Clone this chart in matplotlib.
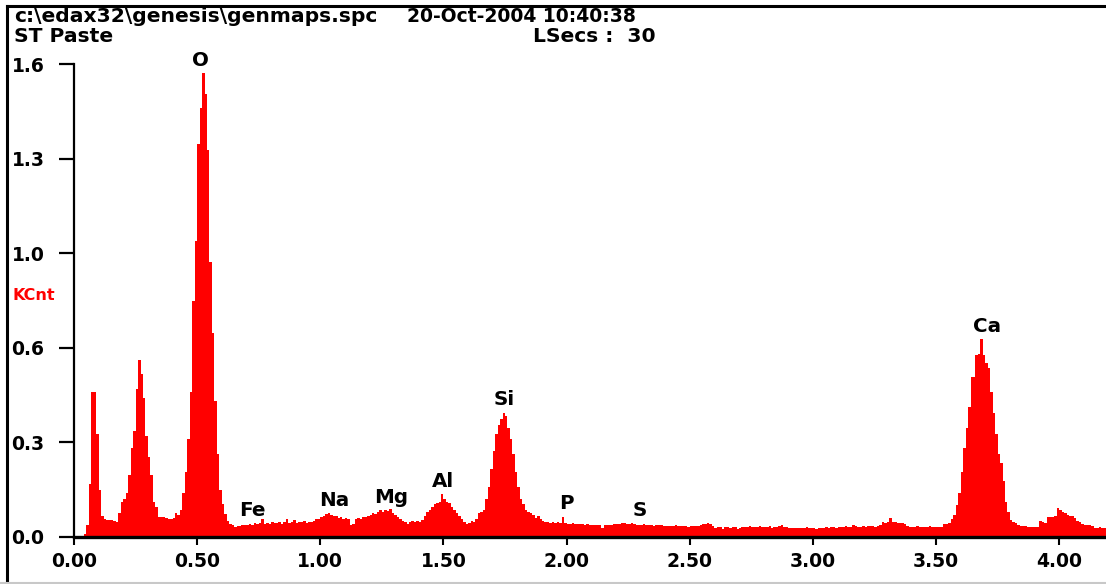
import numpy as np
import matplotlib
matplotlib.use("Agg")
from matplotlib import pyplot as plt
from matplotlib.lines import Line2D

# EDS spectrum, KCnt per 0.01 keV channel, starting at 0.00 keV
bin_width = 0.01
counts = [
    0, 0, 0, 0.004, 0.01, 0.04, 0.18, 0.49, 0.49, 0.35,                      # 0.0
    0.16, 0.07, 0.06, 0.058, 0.058, 0.056, 0.055, 0.05, 0.08, 0.12,          # 0.1
    0.13, 0.15, 0.21, 0.30, 0.36, 0.50, 0.60, 0.55, 0.47, 0.34,              # 0.2
    0.27, 0.21, 0.12, 0.10, 0.068, 0.068, 0.066, 0.065, 0.062, 0.06,         # 0.3
    0.065, 0.08, 0.075, 0.09, 0.15, 0.22, 0.33, 0.49, 0.80, 1.00,            # 0.4
    1.33, 1.45, 1.57, 1.50, 1.31, 0.93, 0.69, 0.46, 0.28, 0.16,              # 0.5
    0.11, 0.078, 0.055, 0.045, 0.04, 0.035, 0.038, 0.036, 0.04, 0.04,        # 0.6
    0.042, 0.045, 0.04, 0.046, 0.044, 0.048, 0.06, 0.045, 0.047, 0.044,      # 0.7
    0.05, 0.046, 0.048, 0.052, 0.045, 0.05, 0.062, 0.047, 0.05, 0.058,       # 0.8
    0.048, 0.052, 0.05, 0.055, 0.048, 0.052, 0.05, 0.055, 0.06, 0.062,       # 0.9
    0.068, 0.072, 0.078, 0.082, 0.076, 0.07, 0.072, 0.065, 0.066, 0.062,     # 1.0
    0.064, 0.06, 0.04, 0.045, 0.062, 0.065, 0.06, 0.066, 0.068, 0.072,       # 1.1
    0.075, 0.08, 0.078, 0.085, 0.09, 0.086, 0.092, 0.088, 0.095, 0.082,      # 1.2
    0.075, 0.068, 0.06, 0.055, 0.05, 0.045, 0.05, 0.055, 0.052, 0.055,       # 1.3
    0.052, 0.058, 0.07, 0.085, 0.09, 0.10, 0.11, 0.115, 0.12, 0.145,         # 1.4
    0.13, 0.12, 0.115, 0.10, 0.09, 0.08, 0.07, 0.06, 0.052, 0.045,           # 1.5
    0.048, 0.055, 0.05, 0.06, 0.08, 0.085, 0.09, 0.13, 0.17, 0.23,           # 1.6
    0.29, 0.35, 0.38, 0.40, 0.42, 0.41, 0.37, 0.33, 0.28, 0.22,              # 1.7
    0.17, 0.13, 0.11, 0.09, 0.085, 0.08, 0.075, 0.065, 0.07, 0.06,           # 1.8
    0.055, 0.05, 0.052, 0.048, 0.05, 0.046, 0.05, 0.048, 0.068, 0.047,       # 1.9
    0.045, 0.044, 0.046, 0.044, 0.045, 0.043, 0.044, 0.042, 0.043, 0.042,    # 2.0
    0.041, 0.042, 0.04, 0.041, 0.03, 0.04, 0.041, 0.042, 0.042, 0.043,       # 2.1
    0.044, 0.045, 0.046, 0.046, 0.045, 0.044, 0.048, 0.045, 0.042, 0.04,     # 2.2
    0.042, 0.043, 0.042, 0.04, 0.041, 0.038, 0.04, 0.039, 0.04, 0.038,       # 2.3
    0.037, 0.036, 0.038, 0.037, 0.04, 0.036, 0.037, 0.038, 0.036, 0.035,     # 2.4
    0.036, 0.037, 0.038, 0.037, 0.04, 0.045, 0.044, 0.046, 0.044, 0.036,     # 2.5
    0.03, 0.034, 0.035, 0.028, 0.033, 0.035, 0.03, 0.034, 0.033, 0.028,      # 2.6
    0.032, 0.035, 0.033, 0.034, 0.036, 0.033, 0.035, 0.034, 0.036, 0.033,    # 2.7
    0.034, 0.033, 0.036, 0.032, 0.035, 0.034, 0.036, 0.04, 0.034, 0.033,     # 2.8
    0.03, 0.031, 0.032, 0.031, 0.03, 0.029, 0.031, 0.033, 0.03, 0.032,       # 2.9
    0.031, 0.028, 0.03, 0.032, 0.031, 0.033, 0.032, 0.034, 0.033, 0.032,     # 3.0
    0.033, 0.035, 0.034, 0.036, 0.035, 0.034, 0.04, 0.036, 0.035, 0.034,     # 3.1
    0.036, 0.035, 0.037, 0.036, 0.038, 0.035, 0.037, 0.04, 0.05, 0.048,      # 3.2
    0.052, 0.065, 0.05, 0.05, 0.046, 0.047, 0.046, 0.045, 0.036, 0.035,      # 3.3
    0.035, 0.034, 0.036, 0.033, 0.035, 0.034, 0.035, 0.036, 0.033, 0.034,    # 3.4
    0.035, 0.033, 0.035, 0.044, 0.044, 0.046, 0.06, 0.074, 0.108, 0.15,      # 3.5
    0.22, 0.30, 0.37, 0.44, 0.54, 0.54, 0.615, 0.62, 0.67, 0.615,            # 3.6
    0.59, 0.57, 0.49, 0.42, 0.35, 0.28, 0.25, 0.19, 0.12, 0.085,             # 3.7
    0.057, 0.05, 0.048, 0.04, 0.038, 0.037, 0.036, 0.035, 0.034, 0.035,      # 3.8
    0.034, 0.035, 0.055, 0.05, 0.048, 0.068, 0.066, 0.068, 0.07, 0.098,      # 3.9
    0.09, 0.085, 0.08, 0.075, 0.07, 0.07, 0.065, 0.055, 0.05, 0.044,         # 4.0
    0.042, 0.04, 0.04, 0.038, 0.032, 0.03, 0.033, 0.03, 0.032, 0.03,         # 4.1
]

# peak labels: element, energy (keV), height (KCnt)
elements = ["O", "Fe", "Na", "Mg", "Al", "Si", "P", "S", "Ca"]
element_kev = [0.512, 0.723, 1.056, 1.287, 1.498, 1.746, 1.998, 2.298, 3.707]
element_kcnt = [1.611, 0.091, 0.125, 0.135, 0.189, 0.464, 0.115, 0.088, 0.713]

x_ticks = [0.0, 0.5, 1.0, 1.5, 2.0, 2.5, 3.0, 3.5, 4.0]
x_tick_labels = ["0.00", "0.50", "1.00", "1.50", "2.00", "2.50", "3.00", "3.50", "4.00"]
y_ticks = [0.0, 0.32, 0.64, 0.96, 1.28, 1.6]
y_tick_labels = ["0.0", "0.3", "0.6", "1.0", "1.3", "1.6"]

header_file = "c:\\edax32\\genesis\\genmaps.spc"
header_date = "20-Oct-2004 10:40:38"
sample_name = "ST Paste"
live_time = "LSecs :  30"

plt.rcParams["font.family"] = "DejaVu Sans"
plt.rcParams["font.weight"] = "bold"
fs = 13.5
fs_head = 14.6

fig = plt.figure(figsize=(11.06, 5.84), dpi=100)
ax = fig.add_axes([74 / 1106, 47 / 584, 1 - 74 / 1106, 473 / 584])

edges = np.arange(len(counts) + 1) * bin_width
ax.stairs(counts, edges, fill=True, color="#ff0000", linewidth=0)

ax.set_xlim(0, 4.19)
ax.set_ylim(0, 1.6)

for side in ["top", "right"]:
    ax.spines[side].set_visible(False)
ax.spines["left"].set_linewidth(1.6)
ax.spines["bottom"].set_linewidth(2.4)

ax.set_xticks(x_ticks)
ax.set_xticklabels(x_tick_labels, fontsize=fs, fontweight="bold")
ax.set_yticks(y_ticks)
ax.set_yticklabels(y_tick_labels, fontsize=fs, fontweight="bold")
ax.tick_params(axis="x", direction="out", length=6, width=1.5, pad=5)
ax.tick_params(axis="y", direction="out", length=11, width=1.6, pad=34)
for lbl in ax.get_yticklabels():
    lbl.set_horizontalalignment("left")

for name, xk, yk in zip(elements, element_kev, element_kcnt):
    ax.text(xk, yk, name, ha="center", va="center", fontsize=14.3,
            fontweight="bold", clip_on=False)

fig.text(12 / 1106, 1 - 295 / 584, "KCnt", color="#ff0000", fontsize=11.5,
         fontweight="bold", ha="left", va="center")

fig.text(14 / 1106, 1 - 16 / 584, header_file, fontsize=fs_head, fontweight="bold",
         ha="left", va="center")
fig.text(407 / 1106, 1 - 16 / 584, header_date, fontsize=fs, fontweight="bold",
         ha="left", va="center")
fig.text(14 / 1106, 1 - 37 / 584, sample_name, fontsize=fs_head, fontweight="bold",
         ha="left", va="center")
fig.text(533 / 1106, 1 - 37 / 584, live_time, fontsize=fs_head, fontweight="bold",
         ha="left", va="center")

# window frame
fig.add_artist(Line2D([7 / 1106, 1], [1 - 6 / 584, 1 - 6 / 584], color="black",
                      linewidth=2.2, transform=fig.transFigure))
fig.add_artist(Line2D([7 / 1106, 7 / 1106], [0, 1 - 6 / 584], color="black",
                      linewidth=2.2, transform=fig.transFigure))
fig.add_artist(Line2D([0, 1], [1.5 / 584, 1.5 / 584], color="#c8c8c8",
                      linewidth=1.5, transform=fig.transFigure))

fig.savefig("out.png", dpi=100)
plt.close(fig)
